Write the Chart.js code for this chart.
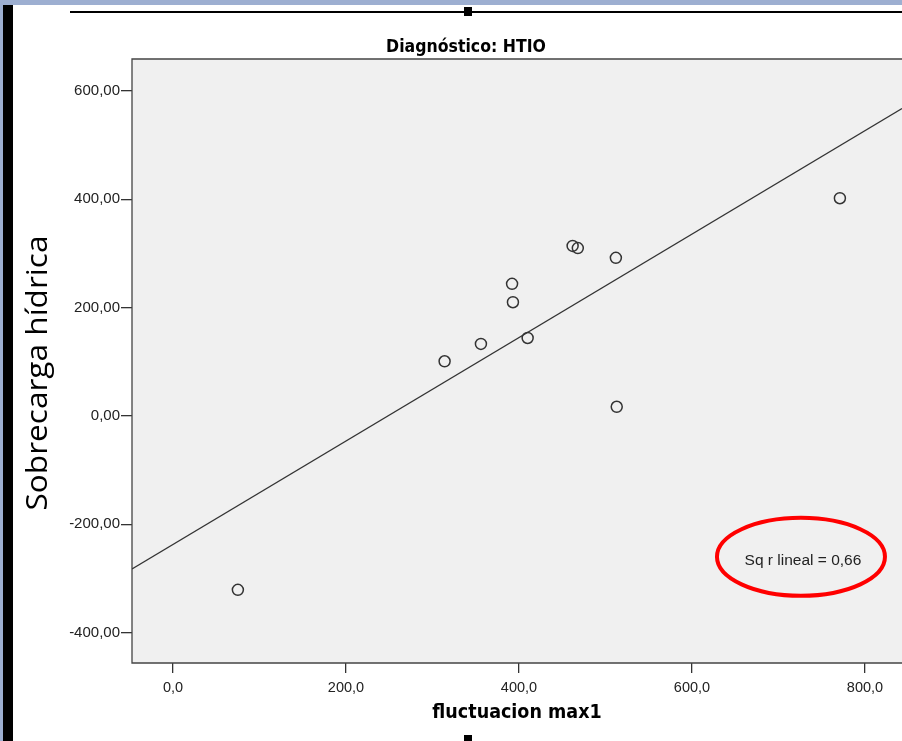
<!DOCTYPE html>
<html>
<head>
<meta charset="utf-8">
<script src="https://cdn.jsdelivr.net/npm/chart.js@4.4.0/dist/chart.umd.min.js"></script>
<style>
html, body { margin: 0; padding: 0; background: #fff; width: 902px; height: 741px; overflow: hidden; }
.deco { position: absolute; }
#wrap { position: absolute; left: 0; top: 0; width: 902px; height: 741px; }
</style>
</head>
<body>
<div class="deco" style="left:0;top:0;width:902px;height:5px;background:#9dafd1"></div>
<div class="deco" style="left:0;top:0;width:3px;height:741px;background:#9dafd1"></div>
<div class="deco" style="left:3px;top:5px;width:10px;height:736px;background:#000"></div>
<div class="deco" style="left:70px;top:11px;width:832px;height:2px;background:#000"></div>
<div class="deco" style="left:464px;top:7px;width:8px;height:9px;background:#000"></div>
<div class="deco" style="left:464px;top:735px;width:8px;height:6px;background:#000"></div>
<div id="wrap"><canvas id="chart"></canvas></div>
<script>
// values
const xValues = [75, 314, 356, 392, 393, 410, 462, 468, 512, 513, 771];
const yValues = [-321, 101, 133, 244, 210, 144, 314, 310, 292, 17, 402];
const xTicks = [0, 200, 400, 600, 800];
const yTicks = [-400, -200, 0, 200, 400, 600];
const xRange = [-47.4, 842.8];
const yRange = [-456, 659];

const chartTitle = 'Diagnóstico: HTIO';
const xTitle = 'fluctuacion max1';
const yTitle = 'Sobrecarga hídrica';

// linear fit
const n = xValues.length;
const mx = xValues.reduce((a, b) => a + b, 0) / n;
const my = yValues.reduce((a, b) => a + b, 0) / n;
let sxy = 0, sxx = 0, syy = 0;
for (let i = 0; i < n; i++) {
    sxy += (xValues[i] - mx) * (yValues[i] - my);
    sxx += (xValues[i] - mx) ** 2;
    syy += (yValues[i] - my) ** 2;
}
const slope = sxy / sxx;
const intercept = my - slope * mx;
const r2 = (sxy * sxy) / (sxx * syy);
const fitLine = xRange.map(x => ({ x: x, y: intercept + slope * x }));

const comma = (v, d) => v.toFixed(d).replace('.', ',');

const narrow = '"Liberation Sans Narrow", "DejaVu Sans Condensed", "Liberation Sans", Arial, sans-serif';
const sans = '"Liberation Sans", Arial, sans-serif';

const decor = {
    id: 'decor',
    beforeDatasetsDraw(chart) {
        const { ctx, chartArea: a } = chart;
        ctx.save();
        ctx.fillStyle = '#f0f0f0';
        ctx.fillRect(a.left, a.top, a.right - a.left + 10, a.bottom - a.top);
        ctx.strokeStyle = '#444';
        ctx.lineWidth = 1.3;
        ctx.beginPath();
        ctx.moveTo(a.right + 10, a.top);
        ctx.lineTo(a.left, a.top);
        ctx.lineTo(a.left, a.bottom);
        ctx.lineTo(a.right + 10, a.bottom);
        ctx.stroke();
        ctx.restore();
    },
    afterDraw(chart) {
        const { ctx, scales } = chart;
        ctx.save();
        ctx.fillStyle = '#000';
        ctx.textAlign = 'center';
        ctx.textBaseline = 'middle';
        ctx.font = 'bold 17.5px ' + narrow;
        ctx.fillText(chartTitle, 466, 47);

        ctx.translate(38, 373);
        ctx.rotate(-Math.PI / 2);
        ctx.font = '30px "Open Sans", "Noto Sans", sans-serif';
        const w = ctx.measureText(yTitle).width;
        ctx.scale(275 / w, 1);
        ctx.fillText(yTitle, 0, 0);
        ctx.restore();

        // R² annotation with red ellipse
        const cx = scales.x.getPixelForValue(726);
        const cy = scales.y.getPixelForValue(-260);
        ctx.save();
        ctx.fillStyle = '#222';
        ctx.font = '15.5px ' + sans;
        ctx.textAlign = 'center';
        ctx.textBaseline = 'middle';
        ctx.fillText('Sq r lineal = ' + comma(r2, 2), cx + 2, cy + 4);
        ctx.strokeStyle = '#ff0000';
        ctx.lineWidth = 4;
        ctx.beginPath();
        ctx.ellipse(cx, cy, 84, 39, 0, 0, Math.PI * 2);
        ctx.stroke();
        ctx.restore();
    }
};

new Chart(document.getElementById('chart'), {
    type: 'scatter',
    data: {
        datasets: [
            {
                data: xValues.map((x, i) => ({ x: x, y: yValues[i] })),
                pointStyle: 'circle',
                pointRadius: 5.5,
                pointBorderWidth: 1.5,
                pointBorderColor: '#333',
                pointBackgroundColor: 'rgba(0,0,0,0)'
            },
            {
                type: 'line',
                data: fitLine,
                borderColor: '#333',
                borderWidth: 1.3,
                pointRadius: 0
            }
        ]
    },
    options: {
        responsive: true,
        maintainAspectRatio: false,
        animation: false,
        events: [],
        layout: { autoPadding: false, padding: { top: 59, left: 0, right: 0, bottom: 0 } },
        plugins: { legend: { display: false }, tooltip: { enabled: false } },
        scales: {
            x: {
                type: 'linear',
                min: xRange[0],
                max: xRange[1],
                afterBuildTicks: s => { s.ticks = xTicks.map(v => ({ value: v })); },
                afterFit: s => { s.height = 78; s.paddingLeft = 0; s.paddingRight = 0; },
                ticks: {
                    callback: v => comma(v, 1),
                    font: { family: sans, size: 14.5 },
                    color: '#222',
                    padding: 6,
                    maxRotation: 0
                },
                grid: { drawOnChartArea: false, drawTicks: true, tickLength: 10, color: '#333', lineWidth: 1.3 },
                border: { display: false },
                title: {
                    display: true,
                    text: xTitle,
                    color: '#000',
                    font: { family: narrow, size: 19.5, weight: 'bold' },
                    padding: { top: 0, bottom: 16 }
                }
            },
            y: {
                type: 'linear',
                min: yRange[0],
                max: yRange[1],
                afterBuildTicks: s => { s.ticks = yTicks.map(v => ({ value: v })); },
                afterFit: s => { s.width = 132; s.paddingTop = 0; s.paddingBottom = 0; },
                ticks: {
                    callback: v => comma(v, 2),
                    font: { family: sans, size: 15 },
                    color: '#222',
                    padding: 1
                },
                grid: { drawOnChartArea: false, drawTicks: true, tickLength: 11, color: '#333', lineWidth: 1.3 },
                border: { display: false }
            }
        }
    },
    plugins: [decor]
});
</script>
</body>
</html>
